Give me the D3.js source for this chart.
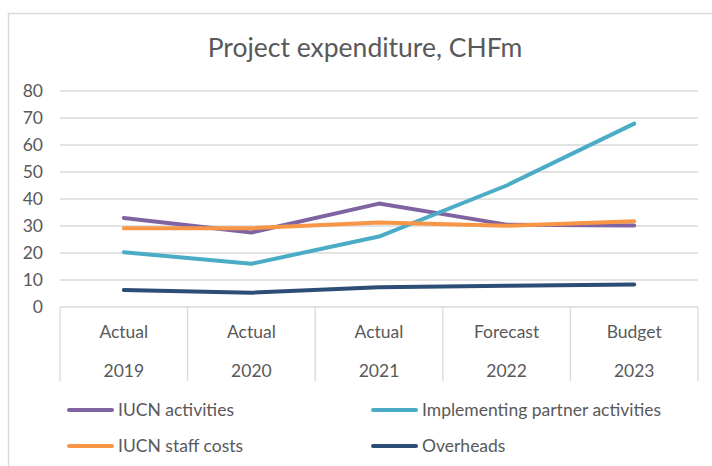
<!DOCTYPE html>
<html><head><meta charset="utf-8">
<script src="https://cdn.jsdelivr.net/npm/d3@7"></script>
<style>body{margin:0;background:#fff;} svg{display:block;} text{font-family:Lato,"Open Sans",sans-serif;fill:#595959;}</style>
</head><body><svg id="c" width="712" height="466"></svg>
<script>
const categories = ["2019","2020","2021","2022","2023"];
const stages = ["Actual","Actual","Actual","Forecast","Budget"];
const seriesNames = ["IUCN activities","Implementing partner activities","IUCN staff costs","Overheads"];
const iucnActivities = [33.0, 27.6, 38.3, 30.5, 30.2];
const partnerActivities = [20.3, 16.0, 26.1, 45.0, 67.9];
const staffCosts = [29.2, 29.2, 31.3, 30.1, 31.8];
const overheads = [6.3, 5.3, 7.3, 7.9, 8.3];
const yTicks = [0,10,20,30,40,50,60,70,80];
const colors = ["#8064A2","#4BACC6","#F79646","#2C4D75"];

const series = [iucnActivities, partnerActivities, staffCosts, overheads];
const svg = d3.select("#c");
// chart border
svg.append("rect").attr("x",8.5).attr("y",13.5).attr("width",760).attr("height",500)
  .attr("fill","none").attr("stroke","#D9D9D9").attr("stroke-width",1.5);

svg.append("text").attr("x",365).attr("y",57).attr("text-anchor","middle")
  .style("font-size","26.5px").text("Project expenditure, CHFm");

const x = d3.scaleBand().domain(categories).range([60,698]);
const y = d3.scaleLinear().domain([0,80]).range([307,91]);

// gridlines
svg.append("g").selectAll("line").data(yTicks.filter(d=>d>0)).join("line")
  .attr("x1",60).attr("x2",698).attr("y1",d=>y(d)).attr("y2",d=>y(d))
  .attr("stroke","#D9D9D9").attr("stroke-width",1.3);

// y axis labels
const yAxis = d3.axisLeft(y).tickValues(yTicks).tickSize(0).tickPadding(0);
const ya = svg.append("g").attr("transform","translate(43,0)").call(yAxis);
ya.select(".domain").remove();
ya.selectAll("text").style("font-size","17.5px").attr("fill","#595959").style("font-family","Lato,'Open Sans',sans-serif");

// category axis
svg.append("line").attr("x1",60).attr("x2",698).attr("y1",y(0)).attr("y2",y(0))
  .attr("stroke","#D9D9D9").attr("stroke-width",1.3);
const bounds = categories.map(c=>x(c)).concat([x.range()[1]]);
svg.append("g").selectAll("line").data(bounds).join("line")
  .attr("x1",d=>d).attr("x2",d=>d).attr("y1",y(0)).attr("y2",381)
  .attr("stroke","#D9D9D9").attr("stroke-width",1.3);
svg.append("g").selectAll("text").data(stages).join("text")
  .attr("x",(d,i)=>x(categories[i])+x.bandwidth()/2).attr("y",338)
  .attr("text-anchor","middle").style("font-size","17.5px").text(d=>d);
svg.append("g").selectAll("text").data(categories).join("text")
  .attr("x",d=>x(d)+x.bandwidth()/2).attr("y",377)
  .attr("text-anchor","middle").style("font-size","17.5px").text(d=>d);

// lines
const line = d3.line().x((d,i)=>x(categories[i])+x.bandwidth()/2).y(d=>y(d));
series.forEach((s,k)=>{
  svg.append("path").datum(s).attr("d",line).attr("fill","none")
    .attr("stroke",colors[k]).attr("stroke-width",4).attr("stroke-linecap","round").attr("stroke-linejoin","round");
});

// legend
const legPos = [[68,410],[372,410],[68,446],[372,446]];
seriesNames.forEach((n,k)=>{
  const [lx,ly] = legPos[k];
  svg.append("line").attr("x1",lx+1).attr("x2",lx+44).attr("y1",ly).attr("y2",ly)
    .attr("stroke",colors[k]).attr("stroke-width",4).attr("stroke-linecap","round");
  svg.append("text").attr("x",lx+50).attr("y",ly+6).style("font-size","17.5px").text(n);
});
</script></body></html>
